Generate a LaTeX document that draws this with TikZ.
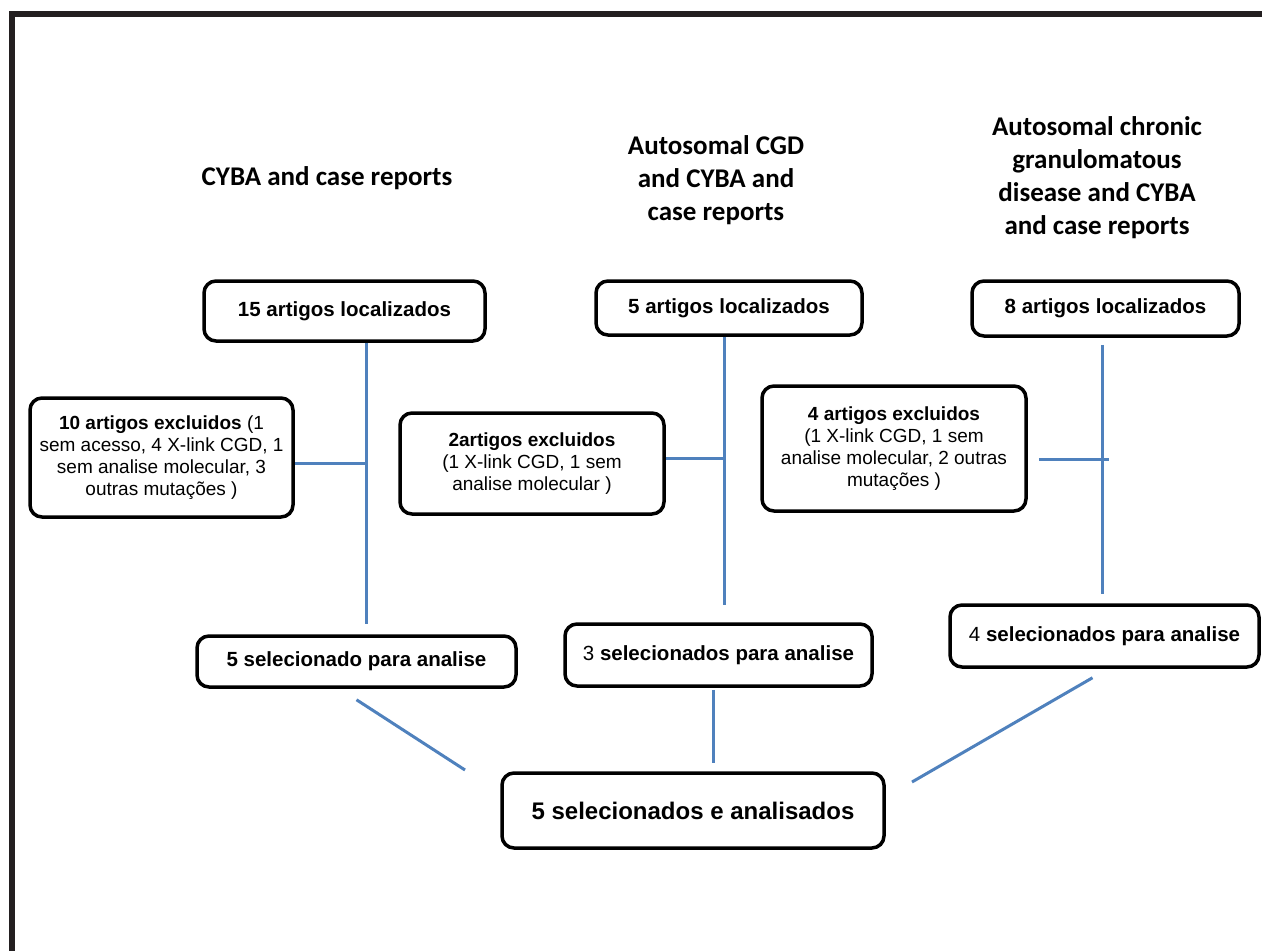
\documentclass[tikz,border=0pt]{standalone}
\usepackage{fontspec}
\setmainfont{Liberation Sans}
\newfontfamily\headfont{Carlito}
\usetikzlibrary{calc}
\definecolor{linkblue}{RGB}{79,129,189}
\definecolor{framegray}{RGB}{35,31,32}
\begin{document}
\begin{tikzpicture}[x=1pt,y=-1pt,
  box/.style={draw=black, line width=3.5pt, rounded corners=12pt, inner sep=0pt,
    align=center, fill=white},
  locbox/.style={box, font=\bfseries\fontsize{20.5}{24}\selectfont},
  excbox/.style={box, font=\fontsize{19}{22}\selectfont},
  head/.style={font=\headfont\bfseries\fontsize{27}{33}\selectfont, align=center},
  link/.style={draw=linkblue, line width=3pt}]
\useasboundingbox (0,0) rectangle (1262,951);
% outer frame (open on the right and bottom)
\draw[framegray, line width=6pt] (1262,14) -- (12,14) -- (12,951);

% search headings
\node[head] (h1) at (327,178) {CYBA and case reports};
\node[head] (h2) at (716,180) {Autosomal CGD\\and CYBA and\\case reports};
\node[head] (h3) at (1097,178) {Autosomal chronic\\granulomatous\\disease and CYBA\\and case reports};

% articles found
\node[locbox, minimum width=281, minimum height=60] (loc1) at (344.5,311) {15 artigos localizados};
\node[locbox, minimum width=266, minimum height=54] (loc2) at (729,308) {5 artigos localizados};
\node[locbox, minimum width=267, minimum height=55] (loc3) at (1105.5,308.5) {8 artigos localizados};

% excluded articles
\node[excbox, minimum width=263, minimum height=119] (exc1) at (161.5,457.5)
  {\textbf{10 artigos excluidos} (1\\sem acesso, 4 X-link CGD, 1\\sem analise molecular, 3\\outras mutações )};
\node[excbox, minimum width=264, minimum height=101] (exc2) at (532,463.5)
  {\textbf{2artigos excluidos}\\(1 X-link CGD, 1 sem\\analise molecular )};
\node[excbox, minimum width=264, minimum height=125] (exc3) at (894,448.5)
  {\textbf{4 artigos excluidos}\\(1 X-link CGD, 1 sem\\analise molecular, 2 outras\\mutações )};

% selected articles
\node[locbox, minimum width=319, minimum height=51] (sel1) at (356.5,661.5) {5 selecionado para analise};
\node[locbox, minimum width=307, minimum height=62] (sel2) at (718.5,655) {{\mdseries 3} selecionados para analise};
\node[locbox, minimum width=309, minimum height=62] (sel3) at (1104.5,636) {{\mdseries 4} selecionados para analise};

% final result
\node[box, font=\bfseries\fontsize{24}{28}\selectfont, minimum width=382, minimum height=75] (final) at (693,810.5)
  {5 selecionados e analisados};

% junctions of the exclusion branches
\coordinate (j1) at (366,463);
\coordinate (j2) at (724,458);
\coordinate (j3) at (1102,459);
\coordinate (j3e) at (1109,459);
\coordinate (d1) at (465,770);
\coordinate (d3) at (912,782);

% column trunks
\draw[link, shorten >=10pt] (loc1.south -| j1) -- (sel1.north -| j1);
\draw[link, shorten >=17pt] (loc2.south -| j2) -- (sel2.north -| j2);
\draw[link, shorten <=7pt, shorten >=9pt] (loc3.south -| j3) -- (sel3.north -| j3);

% exclusion branches
\draw[link] (exc1.east |- j1) -- (j1);
\draw[link] (exc2.east |- j2) -- (j2);
\draw[link, shorten <=11pt] (exc3.east |- j3) -- (j3e);

% merge into the final box
\draw[link] ($(sel1.south)+(0,11)$) -- (d1);
\draw[link] ($(sel2.south)+(-5.5,2)$) -- ($(final.north)+(20,-8)$);
\draw[link] ($(sel3.south)+(-12,9)$) -- (d3);
\end{tikzpicture}
\end{document}
